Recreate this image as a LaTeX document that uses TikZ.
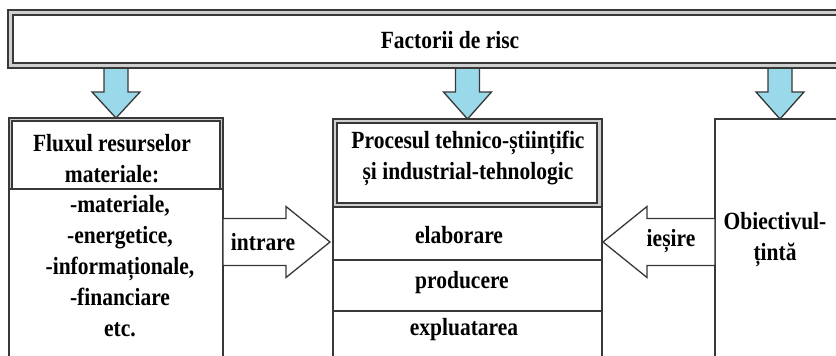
\documentclass[tikz,border=0pt]{standalone}
\usepackage{fontspec}
\setmainfont{Liberation Serif}
\usetikzlibrary{calc}
\usetikzlibrary{backgrounds}
\definecolor{color_line}{HTML}{383838}
\definecolor{color_frame_gap}{HTML}{CFCFCF}
\definecolor{color_arrow_fill}{HTML}{99D9EA}
\def\boxlinewidth{1.3pt}
\def\riskarrow(#1){
    \draw[color_line, fill=color_arrow_fill, line width=\boxlinewidth] let \p1=(#1.north), \p2=(riscframe.south) in
        (\x1-12pt,\y2) -- (\x1-12pt,\y2-24pt) -- (\x1-24pt,\y2-24pt) -- (\x1,\y1)
        -- (\x1+24pt,\y2-24pt) -- (\x1+12pt,\y2-24pt) -- (\x1+12pt,\y2) -- cycle;
}
\def\ioarrow(#1,#2){
    \draw[color_line, fill=white, line width=\boxlinewidth] let \p1=(#1), \p2=(#2), \p3=($(#2)!44pt!(#1)$) in
        (\x1,\y1+23.5pt) -- (\x3,\y1+23.5pt) -- (\x3,\y1+35.5pt) -- (\x2,\y2)
        -- (\x3,\y1-35.5pt) -- (\x3,\y1-23.5pt) -- (\x1,\y1-23.5pt) -- cycle;
}
\tikzset{
    plainbox/.style={draw=color_line, line width=\boxlinewidth, anchor=north west, inner sep=0pt, outer sep=0pt},
    gapbox/.style={plainbox, fill=color_frame_gap},
    whitebox/.style={plainbox, fill=white},
    txt/.style={font=\bfseries\fontsize{21.5}{27}\selectfont, align=center, inner sep=0pt, yscale=1.15, transform shape}
}

\begin{document}
\begin{tikzpicture}[x=1pt, y=1pt]
        \useasboundingbox (0,0) rectangle (836,-356);
        % factors
        \node[gapbox, minimum width=884, minimum height=58] (riscframe) at (8,-10) {};
        \node[whitebox, minimum width=874, minimum height=48] (risc) at (13,-15) {};
        \node[txt] (risctext) at (450,-40) {Factorii de risc};
        % resources
        \node[plainbox, minimum width=214, minimum height=282] (fluxbox) at (9,-118) {};
        \node[gapbox, minimum width=214, minimum height=71] (fluxframe) at (9,-118) {};
        \node[whitebox, minimum width=208, minimum height=68] (fluxtitle) at (12,-121) {};
        \node[txt] (fluxtext) at (112,-159) {Fluxul resurselor\\materiale:};
        \node[txt] (fluxlist) at (120,-266) {-materiale,\\-energetice,\\-informaționale,\\-financiare\\etc.};
        % process
        \node[plainbox, minimum width=269, minimum height=281] (procbox) at (333,-119) {};
        \node[gapbox, minimum width=269, minimum height=88] (procframe) at (333,-119) {};
        \node[whitebox, minimum width=260, minimum height=80] (proctitle) at (337,-123) {};
        \node[txt] (proctext) at (468,-158) {Procesul tehnico-științific\\și industrial-tehnologic};
        \node[plainbox, minimum width=269, minimum height=53] (elab) at (333,-207) {};
        \node[plainbox, minimum width=269, minimum height=51] (prod) at (333,-260) {};
        \node[txt] (elabtext) at (459,-235) {elaborare};
        \node[txt] (prodtext) at (462,-283) {producere};
        \node[txt] (expltext) at (464,-330) {expluatarea};
        % objective
        \node[plainbox, minimum width=130, minimum height=281] (objbox) at (715,-119) {};
        \node[txt] (objtext) at (775,-240) {Obiectivul-\\țintă};

        \begin{pgfonlayer}{background}
            \riskarrow(fluxbox)
            \riskarrow(procbox)
            \riskarrow(objbox)
        \end{pgfonlayer}

        % input / output
        \coordinate (instart) at ($(fluxbox.north east)+(0,-124)$);
        \coordinate (intip) at ($(procbox.north west)+(-3,-123)$);
        \coordinate (outstart) at ($(objbox.north west)+(0,-123)$);
        \coordinate (outtip) at ($(procbox.north east)+(1,-123)$);
        \ioarrow(instart,intip)
        \ioarrow(outstart,outtip)
        \node[txt] (intext) at (263,-242) {intrare};
        \node[txt] (outtext) at (671,-241) {ieșire};
    \end{tikzpicture}
\end{document}
